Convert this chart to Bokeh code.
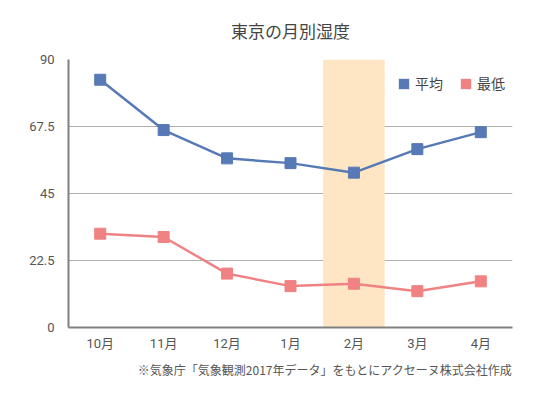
from bokeh.plotting import figure
from bokeh.models import FixedTicker, Legend, LegendItem, Title
from bokeh.embed import file_html
from bokeh.resources import INLINE

months = ["10月", "11月", "12月", "1月", "2月", "3月", "4月"]
avg = [83.2, 66.3, 56.8, 55.2, 52.0, 59.9, 65.6]
low = [31.5, 30.4, 18.1, 13.9, 14.7, 12.2, 15.5]
highlight = ["2月"]
y_ticks = [0, 22.5, 45, 67.5, 90]
y_labels = ["0", "22.5", "45", "67.5", "90"]
series_names = ["平均", "最低"]

FONT = "Noto Sans CJK JP"
NUMFONT = "Roboto, 'Noto Sans CJK JP'"
BLUE = "#5779b5"
PINK = "#f08283"

p = figure(width=534, height=389, x_range=months, y_range=(0, 90),
           output_backend="svg", toolbar_location=None,
           min_border_left=68, min_border_right=22, min_border_top=59, min_border_bottom=62)
p.outline_line_color = None
p.background_fill_color = "white"

p.title.text = "東京の月別湿度"
p.title.align = "center"
p.title.text_font = FONT
p.title.text_font_size = "17px"
p.title.text_font_style = "normal"
p.title.text_color = "#444444"
p.title.standoff = 10

# empty spacer between the title and the plot area
spacer = Title(text=" ", text_font_size="9px", standoff=0)
p.add_layout(spacer, "above")

p.vbar(x=highlight, top=[90] * len(highlight), bottom=0, width=0.97,
       fill_color="#fee6c4", line_color=None)

p.line(months, avg, line_color=BLUE, line_width=2.5)
p.scatter(months, avg, marker="square", size=11, fill_color=BLUE, line_color=BLUE)
p.line(months, low, line_color=PINK, line_width=2.5)
p.scatter(months, low, marker="square", size=11, fill_color=PINK, line_color=PINK)

# hidden renderers used only for the square legend swatches
sw_avg = p.vbar(x=months, top=avg, width=0.5, fill_color=BLUE, line_color=None, visible=False)
sw_low = p.vbar(x=months, top=low, width=0.5, fill_color=PINK, line_color=None, visible=False)

p.yaxis.ticker = FixedTicker(ticks=y_ticks)
p.yaxis.major_label_overrides = {t: l for t, l in zip(y_ticks, y_labels)}
for ax in (p.xaxis, p.yaxis):
    ax.major_tick_line_color = None
    ax.minor_tick_line_color = None
    ax.axis_line_color = "#808080"
    ax.axis_line_width = 2
    ax.major_label_text_font = NUMFONT
    ax.major_label_text_font_size = "13px"
    ax.major_label_text_color = "#555555"
p.yaxis.major_label_standoff = 8
p.xaxis.major_label_standoff = 2

p.xgrid.grid_line_color = None
p.ygrid.ticker = FixedTicker(ticks=y_ticks)
p.ygrid.grid_line_color = "#b0b0b0"
p.ygrid.grid_line_width = 1

legend = Legend(items=[LegendItem(label=series_names[0], renderers=[sw_avg]),
                       LegendItem(label=series_names[1], renderers=[sw_low])],
                orientation="horizontal", location=(329, 234),
                background_fill_alpha=0, border_line_color=None,
                label_text_font=FONT, label_text_font_size="14px",
                label_text_color="#444444", glyph_width=13, glyph_height=13,
                spacing=16, label_standoff=5, margin=0, padding=0,
                click_policy="none", inactive_fill_alpha=0)
p.add_layout(legend)

note = Title(text="※気象庁「気象観測2017年データ」をもとにアクセーヌ株式会社作成",
             align="right", text_font=FONT, text_font_size="12px",
             text_font_style="normal", text_color="#555555", standoff=10)
p.add_layout(note, "below")

open("out.html", "w").write(file_html(p, INLINE))
